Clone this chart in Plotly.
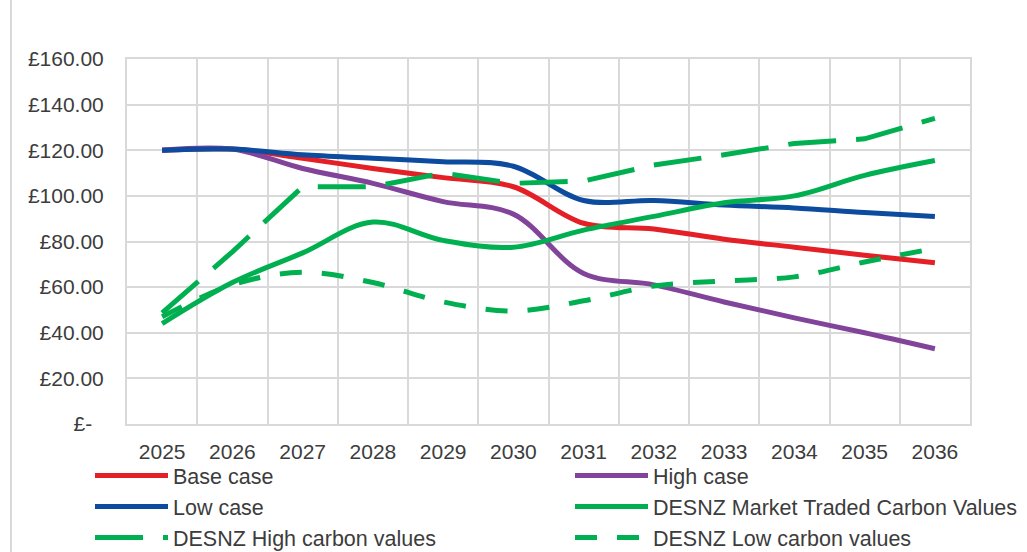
import plotly.graph_objects as go

# Carbon price scenarios (£ per tonne), 2025-2036
years = ["2025", "2026", "2027", "2028", "2029", "2030",
         "2031", "2032", "2033", "2034", "2035", "2036"]

base_case = [120, 120.5, 116.5, 112, 108, 104, 88, 85.5, 81, 77.5, 74, 70.7]
high_case = [120, 120.5, 112, 105.5, 97.5, 92, 66, 61, 53.5, 46.5, 40, 33]
low_case = [120, 120.5, 118, 116.5, 115, 113, 98, 98, 96, 94.7, 92.7, 91]
desnz_market = [44, 62, 75, 88.5, 80.5, 77.5, 85, 91, 97, 100, 109, 115.5]
desnz_high = [48.7, 75.5, 104, 104, 110, 105.5, 106.5, 113.5, 118, 123, 125, 134]
desnz_low = [47, 61, 66.5, 62, 53.5, 49.5, 54, 60.5, 62.7, 64.5, 71, 77]

y_ticks = [0, 20, 40, 60, 80, 100, 120, 140, 160]
y_tick_text = ["£-\u00a0\u00a0", "£20.00", "£40.00", "£60.00", "£80.00",
               "£100.00", "£120.00", "£140.00", "£160.00"]

RED = "#E41F26"
PURPLE = "#81449A"
BLUE = "#0C4B9E"
GREEN = "#00B050"
GRID = "#D9D9D9"
TEXT = "#3C3C3C"
FONT = "Liberation Sans, Arial, sans-serif"

# name, values, colour, dash, line shape, legend column
series = [
    ("Base case", base_case, RED, "solid", "spline", "legend"),
    ("High case", high_case, PURPLE, "solid", "spline", "legend2"),
    ("Low case", low_case, BLUE, "solid", "spline", "legend"),
    ("DESNZ Market Traded Carbon Values", desnz_market, GREEN, "solid", "spline", "legend2"),
    ("DESNZ High carbon values", desnz_high, GREEN, "48px,20px", "linear", "legend"),
    ("DESNZ Low carbon values", desnz_low, GREEN, "22px,20px", "spline", "legend2"),
]

fig = go.Figure()
for name, vals, color, dash, shape, leg in series:
    fig.add_trace(go.Scatter(
        x=years, y=vals, name=name, mode="lines",
        legend=leg, legendgroup=name,
        line=dict(color=color, width=5, dash=dash, shape=shape, smoothing=1.0),
    ))

W, H = 1027, 552
ML, MR, MT, MB = 127, 57, 59, 128
plot_w = W - ML - MR

legend_common = dict(
    orientation="v",
    xref="container", yref="container",
    yanchor="top", xanchor="left",
    y=1 - 455 / H,
    itemwidth=73,
    tracegroupgap=1,
    font=dict(family=FONT, size=21.5, color=TEXT),
    bgcolor="rgba(0,0,0,0)",
    traceorder="normal",
)

fig.update_layout(
    width=W, height=H,
    margin=dict(l=ML, r=MR, t=MT, b=MB, pad=0, autoexpand=False),
    paper_bgcolor="white", plot_bgcolor="white",
    font=dict(family=FONT, size=21, color=TEXT),
    showlegend=True,
    legend=dict(x=90 / W, **legend_common),
    legend2=dict(x=570 / W, **legend_common),
    xaxis=dict(
        type="category",
        range=[-0.5, 11.5],
        tickson="boundaries",
        showgrid=True, gridcolor=GRID, gridwidth=2,
        showline=True, linecolor=GRID, linewidth=2, mirror=True,
        ticks="", ticklabelstandoff=8, automargin=False,
        tickfont=dict(family=FONT, size=21, color=TEXT),
        zeroline=False,
    ),
    yaxis=dict(
        range=[0, 160],
        tickvals=y_ticks, ticktext=y_tick_text,
        showgrid=True, gridcolor=GRID, gridwidth=2,
        showline=True, linecolor=GRID, linewidth=2, mirror=True,
        ticks="", ticklabelstandoff=17, automargin=False,
        tickfont=dict(family=FONT, size=21, color=TEXT),
        zeroline=False,
    ),
    shapes=[dict(
        type="line", xref="paper", yref="paper",
        x0=(11 - ML) / plot_w, x1=(11 - ML) / plot_w,
        y0=-1, y1=2,
        line=dict(color=GRID, width=2),
    )],
)

fig.write_html("out.html")
